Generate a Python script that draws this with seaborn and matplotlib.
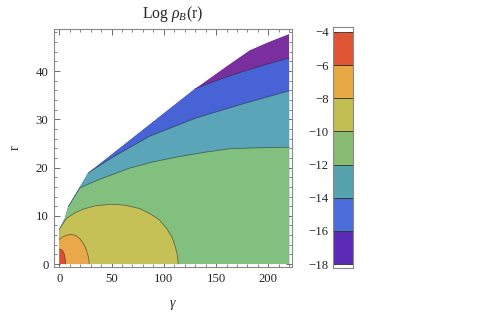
import numpy as np
import pandas as pd
import matplotlib
matplotlib.use("Agg")
import matplotlib.pyplot as plt
from matplotlib.patches import Polygon
from matplotlib.ticker import MultipleLocator
import seaborn as sns

# contour levels and band colours (low -> high)
levels = [-18, -16, -14, -12, -10, -8, -6, -4]
band_colors = ["#7a2f9f", "#4763d6", "#5aa6b8", "#82c07f", "#c6c157", "#e9a84a", "#e04b32"]
bar_colors = ["#5b2ab6", "#4a6ddb", "#56a2ad", "#88bc72", "#c2bf52", "#e8a843", "#e05533"]

# outer edge of the computed region (gamma, r)
edge_g = [0, 5.4, 8.6, 27.7, 129.6, 160, 182, 200, 220]
edge_r = [7.2, 9.5, 11.9, 18.9, 36.3, 41.0, 44.3, 46.0, 47.7]

# contour lines
c16_g = [129.6, 150, 175.7, 200, 220]
c16_r = [36.3, 38.0, 39.9, 41.5, 42.7]
c14_g = [27.7, 50, 86.6, 130, 172.6, 220]
c14_r = [18.9, 22.0, 26.5, 30.2, 33.0, 35.9]
c12_g = [8.6, 19.8, 39, 67.6, 90, 115.5, 140, 163, 190, 220]
c12_r = [11.9, 15.8, 17.6, 19.9, 21.2, 22.3, 23.2, 23.9, 24.1, 24.2]
c10_g = [0, 7, 15, 23, 35, 50, 63, 77, 88, 96, 103, 108, 111, 113, 113.8]
c10_r = [7.2, 9.5, 10.6, 11.4, 12.1, 12.4, 12.2, 11.5, 10.3, 9.1, 7.3, 5.5, 3.6, 1.8, 0]
c8_g = [0, 3, 7, 11.8, 16, 20, 23, 25.5, 27.3, 28.3, 28.7]
c8_r = [5.1, 5.6, 6.0, 6.15, 5.9, 5.2, 4.3, 3.2, 2.0, 1.0, 0]
c6_g = [0, 2, 3.5, 4.8, 5.6, 6.0, 6.1]
c6_r = [3.1, 3.0, 2.7, 2.1, 1.3, 0.6, 0]

contours = [(c16_g, c16_r), (c14_g, c14_r), (c12_g, c12_r),
            (c10_g, c10_r), (c8_g, c8_r), (c6_g, c6_r)]

sns.set_theme(style="ticks")
plt.rcParams["font.family"] = ["Liberation Serif", "DejaVu Serif"]
plt.rcParams["mathtext.fontset"] = "custom"
plt.rcParams["mathtext.rm"] = "Liberation Serif"
plt.rcParams["mathtext.it"] = "Liberation Serif:italic"

fig = plt.figure(figsize=(4.86, 3.21), dpi=100)
ax = fig.add_axes([54 / 486, 1 - 267 / 321, 238 / 486, 238 / 321])
cax = fig.add_axes([333 / 486, 1 - 268 / 321, 20 / 486, 241 / 321])

ax.set_xlim(-5, 222.6)
ax.set_ylim(-0.6, 48.7)
top = 48.7

# region where the function is defined
dom = [(0, 0), (edge_g[-1], 0)] + list(zip(edge_g[::-1], edge_r[::-1]))
dom_patch = Polygon(dom, closed=True, facecolor="none", edgecolor="none",
                    transform=ax.transData)
ax.add_patch(dom_patch)

# lowest band fills the whole region, higher bands painted on top
base = ax.fill([p[0] for p in dom], [p[1] for p in dom], color=band_colors[0], lw=0)
for b in base:
    b.set_clip_path(dom_patch)

for (g, r), col in zip(contours, band_colors[1:]):
    xs = [0, g[-1]] + g[::-1] + [g[0], 0]
    ys = [0, 0] + r[::-1] + [top, top]
    polys = ax.fill(xs, ys, color=col, lw=0)
    for p in polys:
        p.set_clip_path(dom_patch)

for g, r in contours:
    sns.lineplot(x=g, y=r, sort=False, estimator=None, ax=ax,
                 color="#222222", alpha=0.55, lw=0.6)

ax.set_title(r"Log $\rho_B$(r)", fontsize=11.3, pad=8)
ax.set_xlabel(r"$\gamma$", fontsize=10, labelpad=10)
ax.set_ylabel("r", fontsize=10, labelpad=10)

ax.xaxis.set_major_locator(MultipleLocator(50))
ax.xaxis.set_minor_locator(MultipleLocator(10))
ax.yaxis.set_major_locator(MultipleLocator(10))
ax.yaxis.set_minor_locator(MultipleLocator(2))
ax.tick_params(which="both", direction="in", top=True, right=True,
               color="#555555", labelsize=9.2, pad=4)
ax.tick_params(which="major", length=4, width=0.6)
ax.tick_params(which="minor", length=2, width=0.5)
for s in ax.spines.values():
    s.set_color("#888888")
    s.set_linewidth(0.8)

# legend bar
cb = pd.DataFrame({"bottom": levels[:-1], "color": bar_colors})
cax.bar(x=0, height=2, bottom=cb["bottom"], width=1, color=cb["color"],
        edgecolor="#333333", linewidth=0.6)
cax.set_xlim(-0.5, 0.5)
cax.set_ylim(-18.24, -3.7)
cax.set_xticks([])
cax.set_yticks(levels)
cax.yaxis.set_minor_locator(MultipleLocator(0.5))
cax.tick_params(which="both", direction="in", left=True, right=True,
                color="#444444", labelsize=9.2, pad=3)
cax.tick_params(which="major", length=3, width=0.6)
cax.tick_params(which="minor", left=False, length=2, width=0.5)
for s in cax.spines.values():
    s.set_color("#888888")
    s.set_linewidth(0.8)

fig.savefig("out.png", dpi=100)
